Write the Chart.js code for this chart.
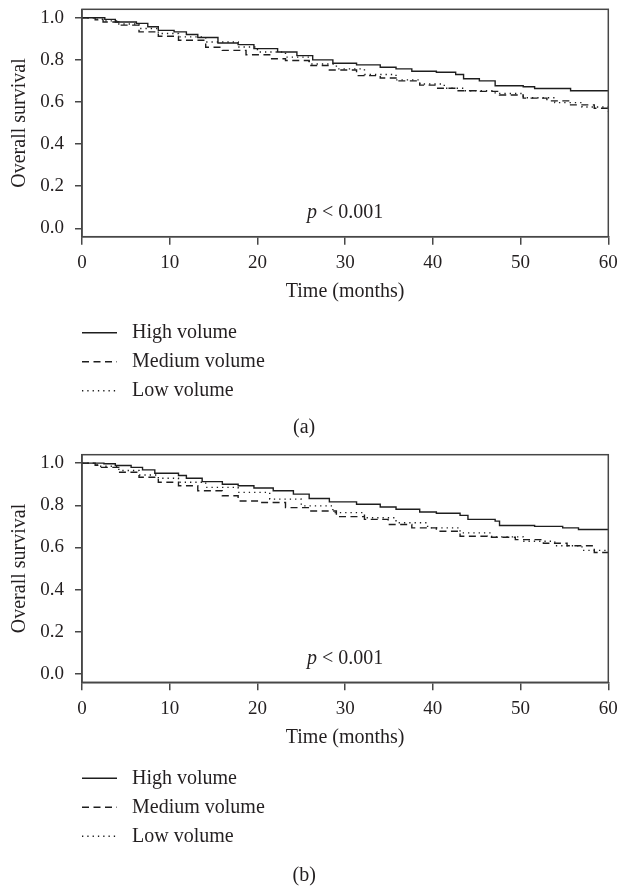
<!DOCTYPE html>
<html>
<head>
<meta charset="utf-8">
<script src="https://cdn.jsdelivr.net/npm/chart.js@4.4.0/dist/chart.umd.min.js"></script>
<style>
  body { margin: 0; background: #fff; }
  canvas { display: block; }
</style>
</head>
<body>
<canvas id="chartA" width="621" height="446"></canvas>
<canvas id="chartB" width="621" height="442"></canvas>
<script>
// tick labels and series names
const timeTicks = [0, 10, 20, 30, 40, 50, 60];
const survTicks = [0, 0.2, 0.4, 0.6, 0.8, 1.0];
const seriesNames = ['High volume', 'Medium volume', 'Low volume'];

// panel (a)
const aHighT = [0, 2.6, 3.8, 6.2, 7.5, 8.7, 10.5, 11.9, 13.2, 15.5, 17.8, 19.6, 22.3, 24.5, 26.3, 28.6, 31.3, 34.0, 35.8, 37.6, 40.4, 42.6, 43.5, 45.3, 47.1, 50.3, 51.6, 55.7, 60];
const aHighS = [1.0, 0.992, 0.980, 0.973, 0.957, 0.940, 0.933, 0.920, 0.906, 0.880, 0.872, 0.853, 0.837, 0.820, 0.800, 0.784, 0.776, 0.765, 0.757, 0.746, 0.741, 0.730, 0.710, 0.700, 0.677, 0.672, 0.664, 0.653, 0.650];
const aMedT = [0, 1.5, 2.4, 4.2, 6.5, 8.7, 11.0, 14.1, 16.0, 18.7, 21.4, 23.2, 25.9, 28.2, 31.3, 34.0, 35.8, 38.5, 40.4, 42.6, 44.9, 47.6, 50.3, 53.0, 55.7, 58.4, 60];
const aMedS = [1.0, 0.990, 0.980, 0.965, 0.933, 0.912, 0.893, 0.860, 0.845, 0.824, 0.805, 0.797, 0.773, 0.752, 0.725, 0.714, 0.700, 0.680, 0.665, 0.653, 0.650, 0.633, 0.618, 0.605, 0.586, 0.570, 0.557];
const aLowT = [0, 1.5, 2.4, 4.2, 6.5, 8.7, 11.0, 14.1, 17.8, 20.0, 23.2, 25.9, 29.0, 32.2, 35.8, 38.5, 41.3, 43.5, 47.1, 50.3, 53.9, 57.0, 60];
const aLowS = [1.0, 0.993, 0.985, 0.970, 0.949, 0.925, 0.909, 0.885, 0.861, 0.837, 0.813, 0.780, 0.757, 0.730, 0.705, 0.685, 0.665, 0.653, 0.640, 0.620, 0.597, 0.576, 0.552];

// panel (b)
const bHighT = [0, 2.5, 3.8, 5.6, 6.9, 8.3, 11.0, 11.9, 13.7, 16.0, 17.8, 19.6, 21.8, 24.1, 25.9, 28.2, 31.3, 34.0, 35.8, 38.5, 40.4, 43.1, 44.0, 47.1, 47.6, 51.6, 54.8, 56.6, 60];
const bHighS = [1.0, 0.997, 0.989, 0.980, 0.968, 0.952, 0.941, 0.928, 0.912, 0.900, 0.893, 0.882, 0.869, 0.853, 0.832, 0.816, 0.805, 0.792, 0.781, 0.768, 0.762, 0.752, 0.733, 0.725, 0.704, 0.700, 0.693, 0.685, 0.685];
const bMedT = [0, 1.5, 2.0, 4.2, 6.5, 8.7, 11.0, 13.2, 16.0, 17.8, 20.5, 23.2, 25.9, 29.0, 32.2, 34.9, 37.6, 40.4, 43.1, 46.2, 49.4, 52.6, 55.3, 58.4, 60];
const bMedS = [1.0, 0.990, 0.980, 0.957, 0.933, 0.909, 0.893, 0.869, 0.845, 0.820, 0.813, 0.789, 0.773, 0.746, 0.733, 0.709, 0.693, 0.677, 0.653, 0.648, 0.637, 0.620, 0.608, 0.576, 0.565];
const bLowT = [0, 1.5, 2.0, 4.2, 6.5, 8.7, 11.0, 14.1, 17.8, 21.4, 25.0, 28.6, 32.2, 35.8, 39.4, 43.1, 46.7, 50.3, 53.9, 57.0, 60];
const bLowS = [1.0, 0.993, 0.985, 0.965, 0.944, 0.928, 0.909, 0.885, 0.861, 0.829, 0.797, 0.765, 0.741, 0.717, 0.693, 0.669, 0.650, 0.629, 0.608, 0.586, 0.565];

const pText = '< 0.001';

const serif = 'Liberation Serif';
const textColor = '#231f20';
const axisColor = '#474747';
const lineColor = '#1e1e1e';
const dashes = [[], [7, 4.5], [1.3, 4]];

function pts(t, s) {
  return t.map((x, i) => ({ x: x, y: s[i] }));
}

// box round the plot, p-value and the legend under the axis title
const extras = {
  id: 'extras',
  afterDraw(chart) {
    const { ctx, chartArea: a } = chart;
    ctx.save();
    ctx.strokeStyle = axisColor;
    ctx.lineWidth = 1.5;
    ctx.strokeRect(a.left, a.top, a.right - a.left, a.bottom - a.top);

    ctx.fillStyle = textColor;
    ctx.textBaseline = 'middle';
    ctx.textAlign = 'left';
    const cx = (a.left + a.right) / 2;
    const py = a.bottom - 24;
    ctx.font = 'italic 20px "' + serif + '"';
    const pw = ctx.measureText('p ').width;
    ctx.font = '20px "' + serif + '"';
    const rw = ctx.measureText(pText).width;
    const x0 = cx - (pw + rw) / 2;
    ctx.font = 'italic 20px "' + serif + '"';
    ctx.fillText('p', x0, py);
    ctx.font = '20px "' + serif + '"';
    ctx.fillText(pText, x0 + pw, py);

    chart.data.datasets.forEach((ds, i) => {
      const y = a.bottom + 96 + i * 29;
      ctx.strokeStyle = lineColor;
      ctx.lineWidth = 1.4;
      ctx.setLineDash(ds.borderDash);
      ctx.beginPath();
      ctx.moveTo(a.left, y);
      ctx.lineTo(a.left + 35, y);
      ctx.stroke();
      ctx.setLineDash([]);
      ctx.fillText(ds.label, a.left + 50, y);
    });
    ctx.restore();
  }
};

function makeChart(id, series, caption, padTop, capPad) {
  new Chart(document.getElementById(id), {
    type: 'line',
    data: {
      datasets: series.map((s, i) => ({
        label: seriesNames[i],
        data: pts(s[0], s[1]),
        stepped: true,
        borderColor: lineColor,
        borderWidth: 1.4,
        borderDash: dashes[i],
        pointRadius: 0,
        fill: false
      }))
    },
    options: {
      responsive: false,
      animation: false,
      layout: { padding: { left: 0, right: 12.7, top: padTop, bottom: 0 } },
      plugins: {
        legend: { display: false },
        tooltip: { enabled: false },
        title: {
          display: true,
          position: 'bottom',
          text: caption,
          color: textColor,
          font: { family: serif, size: 20, weight: 'normal' },
          padding: capPad
        }
      },
      scales: {
        x: {
          type: 'linear',
          min: 0,
          max: 60,
          afterFit: s => { s.height = 67; s.paddingLeft = 0; s.paddingRight = 0; },
          afterBuildTicks: s => { s.ticks = timeTicks.map(v => ({ value: v })); },
          grid: { drawOnChartArea: false, drawTicks: true, tickLength: 8, color: axisColor, lineWidth: 1.5 },
          border: { color: axisColor, width: 1.5 },
          ticks: { color: textColor, padding: 6.9, font: { family: serif, size: 19 } },
          title: {
            display: true,
            text: 'Time (months)',
            color: textColor,
            font: { family: serif, size: 20 },
            padding: { top: 0, bottom: 0 }
          }
        },
        y: {
          min: -0.04,
          max: 1.04,
          afterFit: s => { s.width = 82; s.paddingTop = 0; s.paddingBottom = 0; },
          afterBuildTicks: s => { s.ticks = survTicks.map(v => ({ value: v })); },
          grid: { drawOnChartArea: false, drawTicks: true, tickLength: 7, color: axisColor, lineWidth: 1.5 },
          border: { color: axisColor, width: 1.5 },
          ticks: { color: textColor, padding: 11, font: { family: serif, size: 19 }, callback: v => v.toFixed(1) },
          title: {
            display: true,
            text: 'Overall survival',
            color: textColor,
            font: { family: serif, size: 20 },
            padding: { top: 8, bottom: 0 }
          }
        }
      }
    },
    plugins: [extras]
  });
}

makeChart('chartA', [[aHighT, aHighS], [aMedT, aMedS], [aLowT, aLowS]], '(a)', 9.3, { top: 112.3, bottom: 6 });
makeChart('chartB', [[bHighT, bHighS], [bMedT, bMedS], [bLowT, bLowS]], '(b)', 8.7, { top: 114.7, bottom: 0 });
</script>
</body>
</html>
